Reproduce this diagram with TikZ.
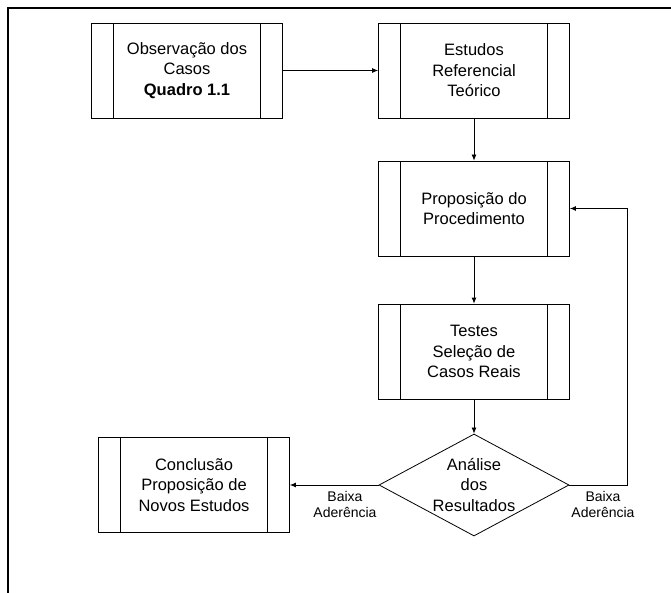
\documentclass[tikz,border=0pt]{standalone}
\usepackage{fontspec}
\setmainfont{Liberation Sans}
\usepackage{tikz}
\usetikzlibrary{shapes.geometric}
\usetikzlibrary{arrows.meta}
\usetikzlibrary{positioning}
\tikzstyle{etapa}=[draw=black, line width=0.8pt, minimum width=191pt, minimum height=95pt, align=center, font=\fontsize{16.5}{20.5}\selectfont, etapa_bars]
\tikzstyle{etapa_bars}=[
    {path picture={ 
        \draw[black, line width=0.8pt]
        ([xshift=22pt]path picture bounding box.south west) -- 
        ([xshift=22pt]path picture bounding box.north west) 
        ([xshift=-22pt]path picture bounding box.south east) -- 
        ([xshift=-22pt]path picture bounding box.north east);
      }
    }
]
\tikzstyle{decisao}=[diamond, draw=black, line width=0.8pt, inner xsep=-12pt, inner ysep=-6pt, aspect=1.86, minimum width=190pt, minimum height=102pt, align=center, font=\fontsize{16.5}{20.5}\selectfont]
\tikzstyle{rotulo}=[align=center, font=\fontsize{14}{16}\selectfont]
\tikzstyle{seta}=[line width=0.8pt, -{Latex[length=6pt,width=5pt]}]

\begin{document}
\begin{tikzpicture}[x=1pt, y=-1pt]
          \useasboundingbox (0,0) rectangle (671,593);
          \draw[line width=1.2pt] (8,593) -- (8,8) -- (671,8);
          \node[etapa] (obs) at (187,70.5){Observação dos\\Casos\\\textbf{Quadro 1.1}};
          \node[etapa] (est) at (474,70.5){Estudos\\Referencial\\Teórico};
          \node[etapa] (prop) at (474,208.5){Proposição do\\Procedimento};
          \node[etapa] (testes) at (474,351.5){Testes\\Seleção de\\Casos Reais};
          \node[decisao] (analise) at (474,485){Análise\\dos\\Resultados};
          \node[etapa] (concl) at (194,485){Conclusão\\Proposição de\\Novos Estudos};
          \node[rotulo] (baixa1) at (345,504){Baixa\\Aderência};
          \node[rotulo] (baixa2) at (603,504){Baixa\\Aderência};
          \draw[seta](obs) -- (est);
          \draw[seta](est) -- (prop);
          \draw[seta](prop) -- (testes);
          \draw[seta](testes) -- (analise);
          \draw[seta](analise) -- (concl);
          \draw[seta](analise.east) -- ++(58,0) |- (prop.east);
        \end{tikzpicture}
\end{document}
